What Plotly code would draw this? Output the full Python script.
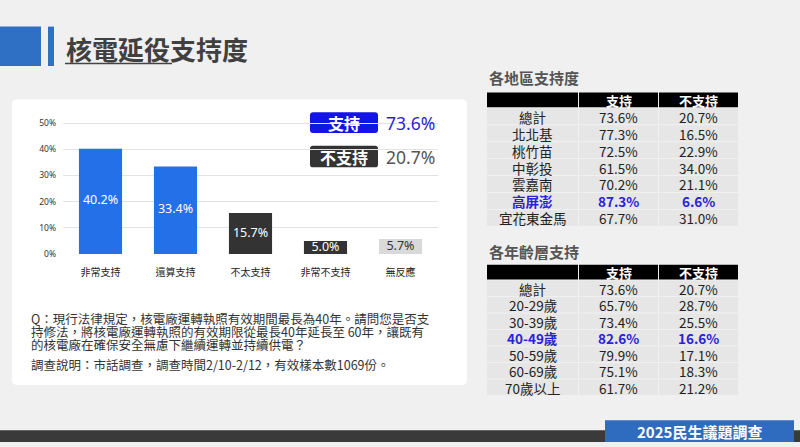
import plotly.graph_objects as go

# ---------------- data ----------------
categories = ["非常支持", "還算支持", "不太支持", "非常不支持", "無反應"]
values = [40.2, 33.4, 15.7, 5.0, 5.7]
bar_colors = ["#2370e8", "#2370e8", "#333333", "#333333", "#d9d9d9"]
label_colors = ["white", "white", "white", "white", "#333333"]

support_total = 73.6
oppose_total = 20.7

regions = ["總計", "北北基", "桃竹苗", "中彰投", "雲嘉南", "高屏澎", "宜花東金馬"]
region_support = [73.6, 77.3, 72.5, 61.5, 70.2, 87.3, 67.7]
region_oppose = [20.7, 16.5, 22.9, 34.0, 21.1, 6.6, 31.0]
region_highlight = 5

ages = ["總計", "20-29歲", "30-39歲", "40-49歲", "50-59歲", "60-69歲", "70歲以上"]
age_support = [73.6, 65.7, 73.4, 82.6, 79.9, 75.1, 61.7]
age_oppose = [20.7, 28.7, 25.5, 16.6, 17.1, 18.3, 21.2]
age_highlight = 3

table_header = ["", "支持", "不支持"]
y_ticks = [0, 10, 20, 30, 40, 50]

question_lines = [
    "Q：現行法律規定，核電廠運轉執照有效期間最長為40年。請問您是否支",
    "持修法，將核電廠運轉執照的有效期限從最長40年延長至 60年，讓既有",
    "的核電廠在確保安全無慮下繼續運轉並持續供電？",
]
note_line = "調查說明：市話調查，調查時間2/10-2/12，有效樣本數1069份。"

# ---------------- layout helpers ----------------
W, H = 800, 447
CJK = "Noto Sans CJK TC"
HL = "#2a22d6"


def fx(x):
    return x / W


def fy(y):
    return 1 - y / H


def rrect(x0, y0, x1, y1, r, color):
    rx, ry = r / W, r / H
    X0, X1, Y0, Y1 = fx(x0), fx(x1), fy(y1), fy(y0)
    path = (f"M{X0+rx},{Y0} L{X1-rx},{Y0} Q{X1},{Y0} {X1},{Y0+ry} "
            f"L{X1},{Y1-ry} Q{X1},{Y1} {X1-rx},{Y1} L{X0+rx},{Y1} "
            f"Q{X0},{Y1} {X0},{Y1-ry} L{X0},{Y0+ry} Q{X0},{Y0} {X0+rx},{Y0} Z")
    return dict(type="path", path=path, xref="paper", yref="paper",
                fillcolor=color, line=dict(width=0), layer="below")


def rect(x0, y0, x1, y1, color, layer="below"):
    return dict(type="rect", xref="paper", yref="paper",
                x0=fx(x0), x1=fx(x1), y0=fy(y1), y1=fy(y0),
                fillcolor=color, line=dict(width=0), layer=layer)


def text(x, y, s, size, color, xanchor="left", bold=False, family=CJK):
    return dict(x=fx(x), y=fy(y), xref="paper", yref="paper",
                text=f"<b>{s}</b>" if bold else s, showarrow=False,
                xanchor=xanchor, yanchor="middle",
                font=dict(size=size, color=color, family=family))


fig = go.Figure()

# bars
fig.add_trace(go.Bar(
    x=categories, y=values, marker=dict(color=bar_colors, line=dict(width=0)),
    width=0.575, hoverinfo="skip", showlegend=False,
))
# bar value labels at the middle of each bar
fig.add_trace(go.Scatter(
    x=categories, y=[v / 2 for v in values], mode="text",
    text=[f"{v:.1f}%" for v in values],
    textfont=dict(size=12.5, color=label_colors, family="Noto Sans"),
    hoverinfo="skip", showlegend=False,
))

shapes = [
    rrect(12, 99, 467, 389, 5, "white"),
    rect(0, 25, 41, 65, "#2f6fc4"),
    rect(48, 25, 54, 65, "#2f6fc4"),
    dict(type="line", xref="paper", yref="paper", x0=fx(65), x1=fx(172),
         y0=fy(62.5), y1=fy(62.5), line=dict(color="#444444", width=1.5)),
    rrect(310, 112, 378, 133, 3, "#1414e6"),
    rrect(310, 146, 378, 168, 3, "#333333"),
    rect(0, 435, 800, 447, "#3a3a3a"),
    rect(605, 425, 794, 447, "#2f6cc0", layer="above"),
]

annotations = [
    text(64, 47, "核電延役支持度", 26, "#404040", bold=True),
    text(344, 122.5, "支持", 16, "white", xanchor="center", bold=True),
    text(384, 123, f"{support_total:.1f}%", 17.5, "#2a1ed8", family="Noto Sans"),
    text(344, 157, "不支持", 16, "white", xanchor="center", bold=True),
    text(384, 157, f"{oppose_total:.1f}%", 17.5, "#555555", family="Noto Sans"),
    text(487, 77, "各地區支持度", 15, "#555555", bold=True),
    text(487, 253, "各年齡層支持", 15, "#555555", bold=True),
    text(699, 436, "2025民生議題調查", 15, "white", xanchor="center", bold=True),
]
for i, line in enumerate(question_lines):
    annotations.append(text(29, 322 + 13 * i, line, 12.5, "#333333"))
annotations.append(text(29, 368, note_line, 12.5, "#333333"))

# ---------------- tables (cells as shapes + text) ----------------
col_edges = [487, 579, 659, 739]


def add_table(names, sup, opp, hl, head_top, head_h, row_top, row_h):
    # header
    for c in range(3):
        x0, x1 = col_edges[c], col_edges[c + 1] - 1
        shapes.append(rect(x0, head_top, x1, head_top + head_h, "black"))
        if table_header[c]:
            annotations.append(text((x0 + x1) / 2, head_top + head_h / 2 + 0.5,
                                    table_header[c], 13, "white",
                                    xanchor="center", bold=True))
    for r, name in enumerate(names):
        y0 = row_top + r * row_h
        y1 = y0 + row_h - 1
        row_vals = [name, f"{sup[r]:.1f}%", f"{opp[r]:.1f}%"]
        for c in range(3):
            x0, x1 = col_edges[c], col_edges[c + 1] - 1
            shapes.append(rect(x0, y0, x1, y1, "#e6e6e6"))
            annotations.append(text((x0 + x1) / 2, (y0 + y1) / 2 + 0.5,
                                    row_vals[c], 13.5,
                                    HL if r == hl else "#222222",
                                    xanchor="center", bold=(r == hl)))


add_table(regions, region_support, region_oppose, region_highlight, 92, 15, 108, 17.2)
add_table(ages, age_support, age_oppose, age_highlight, 267, 15, 283, 16.75)

fig.update_layout(
    width=W, height=H, margin=dict(l=0, r=0, t=0, b=0),
    paper_bgcolor="#f0f0f0", plot_bgcolor="rgba(0,0,0,0)",
    shapes=shapes, annotations=annotations, showlegend=False,
    xaxis=dict(domain=[fx(63), fx(438)], range=[-0.5, 4.5], showgrid=False,
               zeroline=False, showline=False, ticks="", ticklabelstandoff=11,
               tickfont=dict(size=10, color="#222222", family=CJK)),
    yaxis=dict(domain=[fy(256), fy(256 - 26.6 * 5.15)], range=[0, 51.5],
               tickvals=y_ticks, ticktext=[f"{v}%" for v in y_ticks],
               showgrid=True, gridcolor="#e3e3e3", gridwidth=1,
               zeroline=False, showline=False,
               ticks="", ticklabelstandoff=6,
               tickfont=dict(size=8.5, color="#333333", family="Noto Sans")),
    font=dict(family=CJK),
)

fig.write_html(
    "out.html",
    config={"displayModeBar": False},
    post_script="document.body.style.margin='0';document.body.style.background='#f0f0f0';",
)
